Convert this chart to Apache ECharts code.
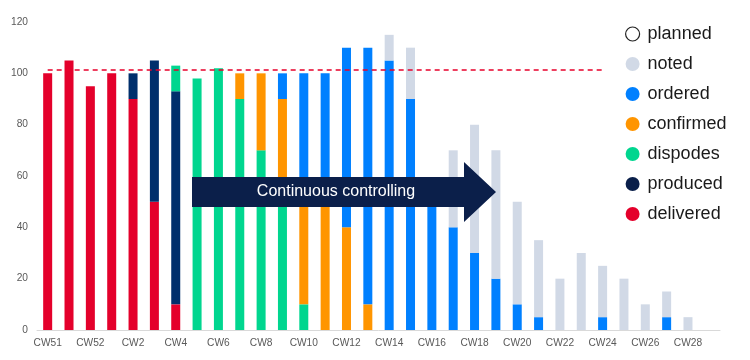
<!DOCTYPE html>
<html>
<head>
<meta charset="utf-8">
<script src="https://cdn.jsdelivr.net/npm/echarts@6/dist/echarts.min.js"></script>
<style>html,body{margin:0;padding:0;background:#fff}#c{width:750px;height:360px}</style>
</head>
<body>
<div id="c"></div>
<script>
var categories = ['CW51','','CW52','CW1','CW2','CW3','CW4','CW5','CW6','CW7','CW8','CW9','CW10','CW11','CW12','CW13','CW14','CW15','CW16','CW17','CW18','CW19','CW20','CW21','CW22','CW23','CW24','CW25','CW26','CW27','CW28','CW29'];
var delivered = [100,105,95,100,90,50,10,null,null,null,null,null,null,null,null,null,null,null,null,null,null,null,null,null,null,null,null,null,null,null,null,null];
var produced  = [null,null,null,null,10,55,83,null,null,null,null,null,null,null,null,null,null,null,null,null,null,null,null,null,null,null,null,null,null,null,null,null];
var dispodes  = [null,null,null,null,null,null,10,98,102,90,70,50,10,null,null,null,null,null,null,null,null,null,null,null,null,null,null,null,null,null,null,null];
var confirmed = [null,null,null,null,null,null,null,null,null,10,30,40,40,50,40,10,null,null,null,null,null,null,null,null,null,null,null,null,null,null,null,null];
var ordered   = [null,null,null,null,null,null,null,null,null,null,null,10,50,50,70,100,105,90,50,40,30,20,10,5,null,null,5,null,null,5,null,null];
var noted     = [null,null,null,null,null,null,null,null,null,null,null,null,null,null,null,null,10,20,null,30,50,50,40,30,20,30,20,20,10,10,5,null];
var planned   = [];
var targetValue = 101.5;
var targetRange = [0, 26];
var yTicks = {min:0, max:120, interval:20};
var arrowText = 'Continuous controlling';

var colors = {
  planned:'#ffffff', noted:'#D1D9E6', ordered:'#0080FF', confirmed:'#FF9500',
  dispodes:'#00D68F', produced:'#002F6C', delivered:'#E4002B'
};
var font = '"Liberation Sans", Arial, sans-serif';

function bar(name, data){
  return {name:name, type:'bar', stack:'total', data:data, barWidth:9,
    itemStyle:{color:colors[name]}, emphasis:{disabled:true}};
}
var series = [
  bar('delivered', delivered),
  bar('produced', produced),
  bar('dispodes', dispodes),
  bar('confirmed', confirmed),
  bar('ordered', ordered),
  bar('noted', noted),
  {name:'planned', type:'bar', stack:'total', data:planned, barWidth:9,
   itemStyle:{color:'#ffffff', borderColor:'#222', borderWidth:1}},
  {name:'target', type:'line', data:[], z:10,
   markLine:{silent:true, symbol:['none','none'], label:{show:false},
     lineStyle:{color:'#E8002B', type:[5,4], width:1.5},
     data:[[{coord:[targetRange[0], targetValue]},{coord:[targetRange[1], targetValue]}]]}}
];

var chart = echarts.init(document.getElementById('c'), null, {renderer:'canvas'});
chart.setOption({
  animation:false,
  backgroundColor:'#ffffff',
  textStyle:{fontFamily:font},
  grid:{left:37, right:30, top:22, bottom:30},
  legend:{
    orient:'vertical', left:625, top:25, padding:0, itemGap:12,
    itemWidth:14, itemHeight:14, icon:'circle',
    textStyle:{fontSize:18, color:'#1a1a1a', fontFamily:font, padding:[0,0,0,3]},
    data:[
      {name:'planned', itemStyle:{color:'#ffffff', borderColor:'#222', borderWidth:1.2}},
      {name:'noted'},{name:'ordered'},{name:'confirmed'},{name:'dispodes'},
      {name:'produced', itemStyle:{color:'#0A1F4A'}},{name:'delivered'}
    ],
    selectedMode:false
  },
  xAxis:{
    type:'category', data:categories, boundaryGap:true,
    axisLine:{lineStyle:{color:'#D9D9D9', width:1}},
    axisTick:{interval:1, lineStyle:{color:'#D9D9D9'}, length:4},
    axisLabel:{interval:1, color:'#595959', fontSize:10.2, fontFamily:font, margin:8}
  },
  yAxis:{
    type:'value', min:yTicks.min, max:yTicks.max, interval:yTicks.interval,
    axisLine:{show:false}, axisTick:{show:false}, splitLine:{show:false},
    axisLabel:{color:'#595959', fontSize:10.2, fontFamily:font, margin:9}
  },
  series:series,
  graphic:[
    {type:'polygon', z:100,
     shape:{points:[[192,177],[464,177],[464,162],[496,192],[464,222],[464,207],[192,207]]},
     style:{fill:'#0B1F4A'}},
    {type:'text', z:101, x:336, y:192,
     style:{text:arrowText, fill:'#ffffff', fontSize:16, fontFamily:font, align:'center', verticalAlign:'middle'}}
  ]
});
</script>
</body>
</html>
